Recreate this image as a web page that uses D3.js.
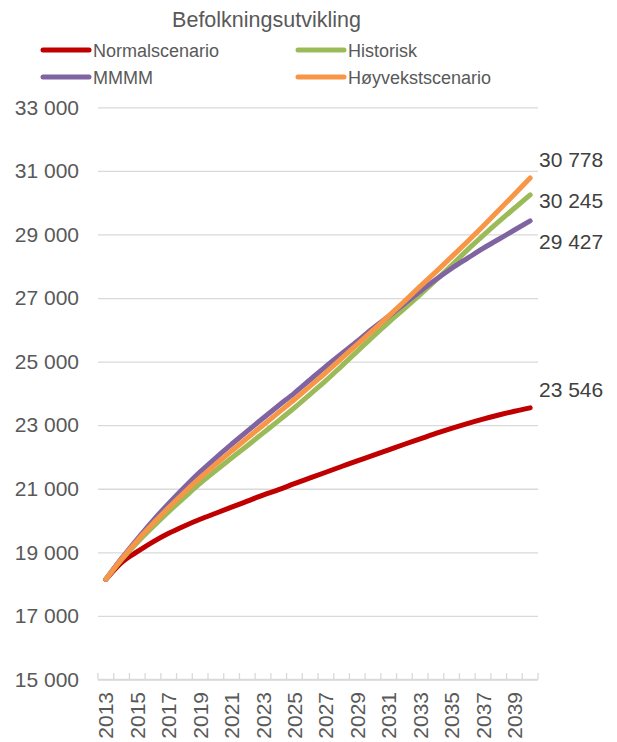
<!DOCTYPE html>
<html>
<head>
<meta charset="utf-8">
<script src="https://cdn.jsdelivr.net/npm/d3@7"></script>
<style>
  html, body { margin: 0; padding: 0; background: #fff; }
  svg { display: block; font-family: Arial, "Liberation Sans", sans-serif; }
</style>
</head>
<body>
<svg id="chart" width="617" height="742"></svg>
<script>
// ---- Data ----
const years = [2013,2014,2015,2016,2017,2018,2019,2020,2021,2022,2023,2024,2025,2026,
               2027,2028,2029,2030,2031,2032,2033,2034,2035,2036,2037,2038,2039,2040];

const normalscenario = [18150,18680,19020,19330,19600,19830,20040,20230,20420,20610,20800,20970,21160,21340,
                        21520,21700,21880,22050,22225,22400,22570,22740,22900,23050,23190,23320,23440,23546];
const historisk      = [18150,18770,19310,19805,20280,20730,21169,21573,21967,22356,22750,23144,23548,23972,
                        24401,24860,25324,25788,26237,26666,27105,27559,28028,28507,28961,29400,29824,30245];
const mmmm           = [18150,18810,19420,20000,20540,21050,21530,21975,22400,22815,23220,23620,24010,24430,
                        24850,25250,25640,26050,26430,26820,27210,27580,27930,28247,28560,28850,29140,29427];
const hoyvekst       = [18150,18790,19370,19905,20410,20890,21349,21773,22187,22596,23000,23404,23808,24232,
                        24656,25100,25544,25988,26437,26896,27365,27824,28293,28772,29261,29760,30264,30778];

const seriesNames  = ["Normalscenario", "Historisk", "MMMM", "Høyvekstscenario"];
const seriesValues = [normalscenario, historisk, mmmm, hoyvekst];
const seriesColors = ["#C00000", "#9BBB59", "#8064A2", "#F79646"];

const yTicks = [15000,17000,19000,21000,23000,25000,27000,29000,31000,33000];
const xTickLabels = years.filter((y, i) => i % 2 === 0);
const title = "Befolkningsutvikling";

// ---- Layout ----
const svg = d3.select("#chart");
const plot = { left: 98, right: 538, top: 107.3, bottom: 679.5 };
const textColor = "#595959";
const gridColor = "#D9D9D9";
const fmt = v => d3.format(",")(v).replace(/,/g, " ");

const x = d3.scaleBand().domain(years).range([plot.left, plot.right]).padding(0);
const y = d3.scaleLinear().domain([15000, 33000]).range([plot.bottom, plot.top]);
const cx = yr => x(yr) + x.bandwidth() / 2;

// Title
svg.append("text")
  .attr("x", 266.5).attr("y", 27)
  .attr("text-anchor", "middle")
  .attr("font-size", 21.5)
  .attr("fill", textColor)
  .text(title);

// Legend
const legendPos = [[43, 50], [298, 50], [43, 77], [298, 77]];
seriesNames.forEach((name, i) => {
  const [lx, ly] = legendPos[i];
  const g = svg.append("g");
  g.append("line")
    .attr("x1", lx).attr("x2", lx + 46).attr("y1", ly).attr("y2", ly)
    .attr("stroke", seriesColors[i]).attr("stroke-width", 5)
    .attr("stroke-linecap", "round");
  g.append("text")
    .attr("x", lx + 50).attr("y", ly + 6.5)
    .attr("font-size", 18)
    .attr("fill", textColor)
    .text(name);
});

// Y gridlines + labels
const yAxis = d3.axisLeft(y).tickValues(yTicks).tickSize(-(plot.right - plot.left)).tickFormat(fmt).tickPadding(19);
const gy = svg.append("g").attr("transform", `translate(${plot.left},0)`).call(yAxis);
gy.select(".domain").remove();
gy.selectAll(".tick line").attr("stroke", gridColor).attr("stroke-width", 1.3);
gy.selectAll(".tick text").attr("font-size", 21).attr("fill", textColor)
  .attr("font-family", 'Arial, "Liberation Sans", sans-serif');

// X axis: baseline, tick marks between categories
const gx = svg.append("g");
gx.append("line")
  .attr("x1", plot.left).attr("x2", plot.right)
  .attr("y1", plot.bottom).attr("y2", plot.bottom)
  .attr("stroke", gridColor).attr("stroke-width", 1.5);
const boundaries = years.map(yr => x(yr)).concat([x(years[years.length - 1]) + x.bandwidth()]);
gx.selectAll("line.tk").data(boundaries).enter().append("line")
  .attr("class", "tk")
  .attr("x1", d => d).attr("x2", d => d)
  .attr("y1", plot.bottom - 6.5).attr("y2", plot.bottom)
  .attr("stroke", gridColor).attr("stroke-width", 1.3);
gx.selectAll("text").data(xTickLabels).enter().append("text")
  .attr("transform", d => `translate(${cx(d)},692) rotate(-90)`)
  .attr("text-anchor", "end")
  .attr("dy", "0.36em")
  .attr("font-size", 21)
  .attr("fill", textColor)
  .text(d => d);

// Lines
const line = d3.line().x((d, i) => cx(years[i])).y(d => y(d)).curve(d3.curveMonotoneX);
seriesValues.forEach((vals, i) => {
  svg.append("path")
    .datum(vals)
    .attr("d", line)
    .attr("fill", "none")
    .attr("stroke", seriesColors[i])
    .attr("stroke-width", 5)
    .attr("stroke-linecap", "round")
    .attr("stroke-linejoin", "round");
});

// End value labels: placed above end point, pushed down to avoid overlaps
const ends = seriesValues.map(v => ({ v: v[v.length - 1], py: y(v[v.length - 1]) }))
  .sort((a, b) => a.py - b.py);
let prev = -Infinity;
ends.forEach(e => {
  let c = e.py - 18;
  if (c < prev + 41) c = prev + 41;
  e.cy = c; prev = c;
});
svg.selectAll("text.endlbl").data(ends).enter().append("text")
  .attr("class", "endlbl")
  .attr("x", 539)
  .attr("y", d => d.cy)
  .attr("dy", "0.35em")
  .attr("font-size", 21)
  .attr("fill", "#404040")
  .text(d => fmt(d.v));
</script>
</body>
</html>
